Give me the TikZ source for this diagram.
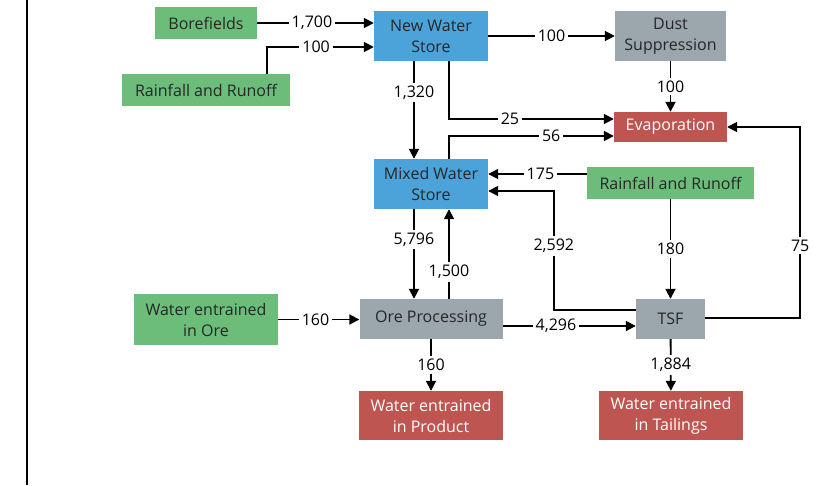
\documentclass[tikz,border=0pt]{standalone}
\usepackage{fontspec}
\setmainfont{Open Sans}
\usetikzlibrary{arrows.meta, positioning, calc}
\definecolor{inflow}{RGB}{108, 189, 122}
\definecolor{store}{RGB}{75, 163, 218}
\definecolor{process}{RGB}{155, 166, 173}
\definecolor{outflow}{RGB}{190, 85, 80}

\begin{document}
\begin{tikzpicture}[
        x=1pt, y=-1pt,
        block/.style={rectangle, inner sep=0pt, align=center, text=black!85,
                      font=\fontsize{16}{21}\selectfont},
        source/.style={block, fill=inflow},
        storebox/.style={block, fill=store},
        procbox/.style={block, fill=process},
        sink/.style={block, fill=outflow, text=white},
        arrow/.style={-{Triangle[length=10pt, width=10pt]}, line width=1.8pt},
        flow/.style={fill=white, inner sep=3pt, font=\fontsize{16}{18}\selectfont},
    ]
        \useasboundingbox (0,0) rectangle (825,485);
        \draw[line width=2.5pt] (27,0) -- (27,485);

        % Sources, stores and sinks
        \node[source, minimum width=102pt, minimum height=32pt] (bore) at (206,23) {Borefields};
        \node[source, minimum width=168pt, minimum height=32pt] (rainL) at (206,90) {Rainfall and Runoff};
        \node[storebox, minimum width=114pt, minimum height=50pt] (nws) at (431,36) {New Water\\Store};
        \node[procbox, minimum width=111pt, minimum height=50pt] (dust) at (670.5,36) {Dust\\Suppression};
        \node[sink, minimum width=113pt, minimum height=30pt] (evap) at (670.5,127) {Evaporation};
        \node[storebox, minimum width=114pt, minimum height=50pt] (mixed) at (431,184) {Mixed Water\\Store};
        \node[source, minimum width=167pt, minimum height=32pt] (rainR) at (670.5,183) {Rainfall and Runoff};
        \node[source, minimum width=144pt, minimum height=51pt] (oreIn) at (206,319.5) {Water entrained\\in Ore};
        \node[procbox, minimum width=143pt, minimum height=40pt] (ore) at (431,319) {Ore Processing};
        \node[procbox, minimum width=69pt, minimum height=40pt] (tsf) at (670.5,319) {TSF};
        \node[sink, minimum width=144pt, minimum height=49pt] (prod) at (431,415.5) {Water entrained\\in Product};
        \node[sink, minimum width=144pt, minimum height=49pt] (tail) at (671,415.5) {Water entrained\\in Tailings};

        % Flows
        \draw[arrow] (bore.east) -- (bore.east -| nws.west) node[flow, pos=0.47] {1,700};
        \draw[arrow] ([xshift=61pt]rainL.north) |- ([yshift=-11pt]nws.west) node[flow, pos=0.73] {100};
        \draw[arrow] (nws.east) -- (dust.west) node[flow, midway] {100};
        \draw[arrow] ([xshift=-17pt]nws.south) -- ([xshift=-17pt]nws.south |- mixed.north) node[flow, pos=0.32] {1,320};
        \draw[arrow] ([xshift=18pt]nws.south) |- ([yshift=8pt]evap.west) node[flow, pos=0.685] {25};
        \draw[arrow] ([xshift=18pt]mixed.north) |- ([yshift=-9pt]evap.west) node[flow, pos=0.81] {56};
        \draw[arrow] (dust) -- (evap) node[flow, midway] {100};
        \draw[arrow] ([yshift=9pt]rainR.west) -- ([yshift=9pt]rainR.west -| mixed.east) node[flow, pos=0.47] {175};
        \draw[arrow] ([yshift=9pt]tsf.west) -- ++(-82,0) |- ([yshift=-7pt]mixed.east) node[flow, pos=0.27] {2,592};
        \draw[arrow] (rainR) -- (tsf) node[flow, midway] {180};
        \draw[arrow] ([yshift=1pt]tsf.east) -- ++(95,0) |- (evap.east) node[flow, pos=0.19] {75};
        \draw[arrow] ([xshift=-17pt]mixed.south) -- ([xshift=-17pt]mixed.south |- ore.north) node[flow, pos=0.34] {5,796};
        \draw[arrow] ([xshift=18pt]ore.north) -- ([xshift=18pt]ore.north |- mixed.south) node[flow, pos=0.3] {1,500};
        \draw[arrow] (oreIn.east) -- (oreIn.east -| ore.west) node[flow, pos=0.46] {160};
        \draw[arrow] ([yshift=-7pt]ore.east) -- ([yshift=-7pt]ore.east -| tsf.west) node[flow, pos=0.4] {4,296};
        \draw[arrow] (ore) -- (prod) node[flow, midway] {160};
        \draw[arrow] (tsf) -- (tail) node[flow, midway] {1,884};

    \end{tikzpicture}
\end{document}
